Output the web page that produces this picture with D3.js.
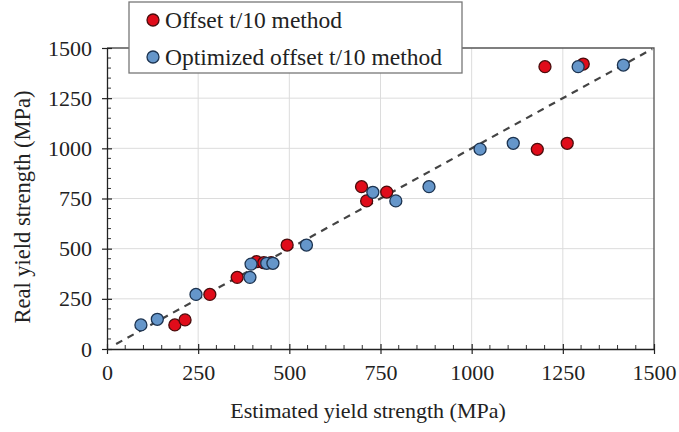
<!DOCTYPE html>
<html>
<head>
<meta charset="utf-8">
<script src="https://cdn.jsdelivr.net/npm/d3@7"></script>
<style>
    body { margin: 0; background: #fff; }
    text { font-family: "Liberation Serif", "Times New Roman", serif; fill: #222; }
</style>
</head>
<body>
<svg id="chart"></svg>
<script>
// Data (MPa)
const offsetX = [186, 214, 282, 357, 410, 430, 450, 494, 698, 712, 767, 1180, 1201, 1262, 1306];
const offsetY = [120, 145, 272, 357, 435, 430, 430, 518, 809, 738, 782, 995, 1407, 1025, 1420];
const optimX = [93, 138, 244, 392, 395, 438, 455, 547, 729, 792, 883, 1023, 1114, 1292, 1416];
const optimY = [120, 148, 272, 357, 423, 427, 427, 518, 781, 738, 809, 996, 1025, 1407, 1415];
const majorTicks = [0, 250, 500, 750, 1000, 1250, 1500];
const seriesNames = ["Offset t/10 method", "Optimized offset t/10 method"];

const W = 679, H = 432;
var margin = { top: 48, right: 25, bottom: 83, left: 107 };
var width = W - margin.left - margin.right;
var height = H - margin.top - margin.bottom;

const svg = d3.select("#chart").attr("width", W).attr("height", H);
const g = svg.append("g").attr("transform", `translate(${margin.left},${margin.top})`);

const x = d3.scaleLinear().domain([0, 1500]).range([0, width]);
const y = d3.scaleLinear().domain([0, 1500]).range([height, 0]);

// gridlines
g.append("g").selectAll("line")
    .data(majorTicks.slice(1, -1))
    .join("line")
    .attr("x1", d => x(d)).attr("x2", d => x(d))
    .attr("y1", 0).attr("y2", height)
    .attr("stroke", "#dcdcdc").attr("stroke-width", 1);
g.append("g").selectAll("line")
    .data(majorTicks.slice(1, -1))
    .join("line")
    .attr("y1", d => y(d)).attr("y2", d => y(d))
    .attr("x1", 0).attr("x2", width)
    .attr("stroke", "#dcdcdc").attr("stroke-width", 1);

// top / right frame
g.append("path")
    .attr("d", `M0,0H${width}V${height}`)
    .attr("fill", "none").attr("stroke", "#555").attr("stroke-width", 1.3);

// minor ticks (inside)
const minor = d3.range(50, 1500, 50).filter(d => d % 250 !== 0);
g.append("g").selectAll("line")
    .data(minor).join("line")
    .attr("x1", d => x(d)).attr("x2", d => x(d))
    .attr("y1", height).attr("y2", height - 4)
    .attr("stroke", "#333");
g.append("g").selectAll("line")
    .data(minor).join("line")
    .attr("y1", d => y(d)).attr("y2", d => y(d))
    .attr("x1", 0).attr("x2", 4)
    .attr("stroke", "#333");

// axes
const fmt = d3.format("d");
const xAxis = g.append("g")
    .attr("transform", `translate(0,${height})`)
    .call(d3.axisBottom(x).tickValues(majorTicks).tickFormat(fmt).tickSize(5).tickPadding(10).tickSizeOuter(0));
const yAxis = g.append("g")
    .call(d3.axisLeft(y).tickValues(majorTicks).tickFormat(fmt).tickSize(5).tickPadding(10).tickSizeOuter(0));

[xAxis, yAxis].forEach(a => {
    a.select(".domain").attr("stroke", "#222").attr("stroke-width", 1.3);
    a.selectAll(".tick line").attr("stroke", "#222").attr("stroke-width", 1.2);
    a.selectAll("text")
        .style("font-family", "'Liberation Serif', 'Times New Roman', serif")
        .style("font-size", "22px")
        .attr("fill", "#222");
});
// major ticks cross the axis
xAxis.selectAll(".tick").append("line").attr("y1", 0).attr("y2", -5).attr("stroke", "#222").attr("stroke-width", 1.2);
yAxis.selectAll(".tick").append("line").attr("x1", 0).attr("x2", 5).attr("stroke", "#222").attr("stroke-width", 1.2);

// 1:1 line
g.append("line")
    .attr("x1", x(25)).attr("y1", y(25))
    .attr("x2", x(1495)).attr("y2", y(1495))
    .attr("stroke", "#444").attr("stroke-width", 2.2)
    .attr("stroke-dasharray", "7,6");

// markers
const offsetData = offsetX.map((v, i) => ({ x: v, y: offsetY[i] }));
const optimData = optimX.map((v, i) => ({ x: v, y: optimY[i] }));

g.append("g").selectAll("circle")
    .data(offsetData).join("circle")
    .attr("cx", d => x(d.x)).attr("cy", d => y(d.y)).attr("r", 6)
    .attr("fill", "#e00c1a").attr("stroke", "#4a0c0c").attr("stroke-width", 1.3);

g.append("g").selectAll("circle")
    .data(optimData).join("circle")
    .attr("cx", d => x(d.x)).attr("cy", d => y(d.y)).attr("r", 6)
    .attr("fill", "#6596ca").attr("stroke", "#1c3350").attr("stroke-width", 1.3);

// axis titles
svg.append("text")
    .attr("x", 368).attr("y", 418)
    .attr("text-anchor", "middle")
    .style("font-size", "22px")
    .text("Estimated yield strength (MPa)");

svg.append("text")
    .attr("transform", "translate(30,207) rotate(-90)")
    .attr("text-anchor", "middle")
    .style("font-size", "22.5px")
    .text("Real yield strength (MPa)");

// legend
const legend = svg.append("g").attr("transform", "translate(129,2)");
legend.append("rect")
    .attr("width", 333).attr("height", 71)
    .attr("fill", "#fff").attr("stroke", "#777").attr("stroke-width", 1.3);
const colors = [["#e00c1a", "#4a0c0c"], ["#6596ca", "#1c3350"]];
seriesNames.forEach((name, i) => {
    const row = legend.append("g").attr("transform", `translate(0,${18 + i * 37})`);
    row.append("circle").attr("cx", 24).attr("cy", 0).attr("r", 6)
        .attr("fill", colors[i][0]).attr("stroke", colors[i][1]).attr("stroke-width", 1.3);
    row.append("text").attr("x", 36).attr("y", 8)
        .style("font-size", "23.5px")
        .text(name);
});
</script>
</body>
</html>
